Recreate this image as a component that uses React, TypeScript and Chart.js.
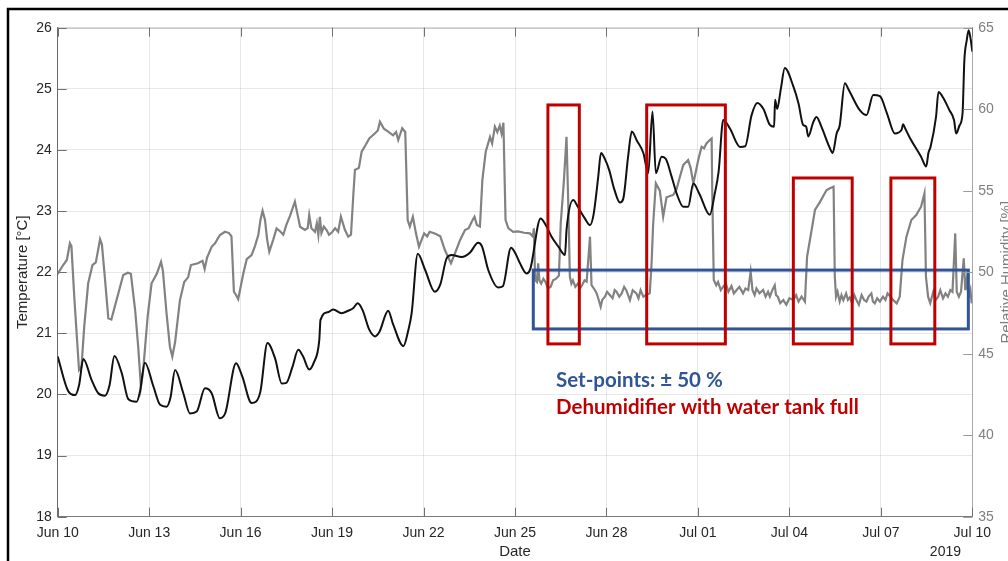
import React, { useEffect, useRef } from "react";
import { Chart, registerables } from "chart.js";

Chart.register(...registerables);

// X axis: days since Jun 10, 2019
const xTickLabels = ["Jun 10", "Jun 13", "Jun 16", "Jun 19", "Jun 22", "Jun 25", "Jun 28", "Jul 01", "Jul 04", "Jul 07", "Jul 10"];
const yearLabel = "2019";

// Temperature [°C] (left axis): [day since Jun 10, value]
const temperatureSeries: [number, number][] = [
  [0.0, 20.62], [0.35, 20.05], [0.57, 19.99], [0.7, 20.15], [0.84, 20.58], [1.11, 20.24], [1.33, 20.02], [1.55, 19.98],
  [1.7, 20.15], [1.86, 20.63], [2.1, 20.35], [2.32, 19.92], [2.59, 19.88], [2.7, 20.05], [2.86, 20.52], [3.14, 20.13],
  [3.36, 19.83], [3.57, 19.8], [3.7, 19.95], [3.85, 20.4], [4.12, 20.02], [4.34, 19.69], [4.56, 19.72], [4.83, 20.1],
  [5.05, 20.02], [5.32, 19.61], [5.5, 19.7], [5.85, 20.51], [6.05, 20.3], [6.36, 19.86], [6.5, 19.88], [6.65, 20.05],
  [6.88, 20.84], [7.13, 20.59], [7.35, 20.18], [7.5, 20.19], [7.7, 20.45], [7.89, 20.73], [8.05, 20.62], [8.25, 20.41],
  [8.4, 20.52], [8.58, 20.89], [8.62, 21.22], [8.88, 21.35], [9.04, 21.39], [9.31, 21.33], [9.53, 21.37], [9.69, 21.41],
  [9.84, 21.49], [10.0, 21.38], [10.22, 21.06], [10.41, 20.95], [10.55, 21.02], [10.84, 21.37], [11.0, 21.15], [11.34, 20.79],
  [11.5, 21.05], [11.61, 21.33], [11.81, 22.3], [12.05, 22.04], [12.37, 21.68], [12.55, 21.8], [12.76, 22.23], [12.92, 22.28],
  [13.25, 22.25], [13.52, 22.32], [13.79, 22.48], [13.92, 22.42], [14.12, 22.04], [14.45, 21.75], [14.6, 21.77], [14.87, 22.4],
  [15.02, 22.3], [15.16, 22.15], [15.38, 21.98], [15.5, 22.05], [15.84, 22.88], [16.0, 22.78], [16.2, 22.58], [16.42, 22.42],
  [16.64, 22.28], [16.69, 22.69], [16.91, 23.18], [17.05, 23.08], [17.29, 22.88], [17.46, 22.77], [17.58, 22.95], [17.73, 23.56],
  [17.82, 23.95], [17.95, 23.85], [18.09, 23.67], [18.26, 23.35], [18.44, 23.14], [18.55, 23.2], [18.71, 23.89], [18.83, 24.3],
  [19.0, 24.15], [19.21, 23.95], [19.37, 23.62], [19.51, 24.63], [19.62, 23.62], [19.81, 23.89], [19.95, 23.85], [20.14, 23.56],
  [20.3, 23.29], [20.52, 23.07], [20.68, 23.07], [20.85, 23.45], [21.05, 23.28], [21.39, 22.94], [21.55, 23.28], [21.68, 23.65],
  [21.83, 24.49], [22.05, 24.35], [22.38, 24.05], [22.55, 24.06], [22.76, 24.57], [22.95, 24.77], [23.15, 24.67], [23.36, 24.41],
  [23.5, 24.38], [23.53, 24.82], [23.6, 24.67], [23.72, 25.0], [23.85, 25.34], [24.13, 25.04], [24.3, 24.76], [24.45, 24.41],
  [24.55, 24.38], [24.62, 24.22], [24.78, 24.45], [24.89, 24.54], [25.05, 24.38], [25.31, 24.05], [25.42, 23.95], [25.55, 24.27],
  [25.65, 24.4], [25.82, 25.09], [25.95, 24.98], [26.31, 24.65], [26.53, 24.57], [26.75, 24.9], [26.97, 24.88], [27.2, 24.6],
  [27.46, 24.27], [27.68, 24.33], [27.73, 24.42], [27.8, 24.35], [27.95, 24.2], [28.32, 23.89], [28.49, 23.73], [28.56, 23.95],
  [28.63, 24.05], [28.81, 24.54], [28.89, 24.95], [29.05, 24.85], [29.25, 24.65], [29.4, 24.49], [29.47, 24.27], [29.58, 24.4],
  [29.68, 24.6], [29.74, 25.47], [29.82, 25.8], [29.88, 25.96], [29.95, 25.8], [30.0, 25.61],
];

// Relative Humidity [%] (right axis): [day since Jun 10, value]
const humiditySeries: [number, number][] = [
  [0.0, 49.9], [0.18, 50.44], [0.3, 50.75], [0.4, 51.77], [0.45, 51.6], [0.55, 48.29], [0.7, 44.0], [0.78, 44.2],
  [0.87, 46.66], [1.0, 49.32], [1.14, 50.44], [1.25, 50.6], [1.39, 52.02], [1.45, 51.7], [1.55, 49.6], [1.66, 47.17],
  [1.76, 47.1], [1.93, 48.29], [2.15, 49.83], [2.3, 49.97], [2.4, 49.9], [2.54, 47.68], [2.64, 45.43], [2.73, 42.97],
  [2.8, 43.9], [2.95, 47.27], [3.08, 49.32], [3.25, 49.9], [3.39, 50.64], [3.45, 50.1], [3.57, 47.48], [3.68, 45.43],
  [3.76, 44.82], [3.85, 45.7], [4.01, 48.29], [4.15, 49.4], [4.28, 49.7], [4.37, 50.44], [4.6, 50.55], [4.75, 50.7],
  [4.82, 50.2], [4.9, 50.9], [5.05, 51.56], [5.16, 51.77], [5.32, 52.28], [5.49, 52.48], [5.62, 52.4], [5.7, 52.2],
  [5.78, 48.8], [5.85, 48.6], [5.92, 48.34], [6.09, 49.93], [6.2, 50.8], [6.36, 51.05], [6.47, 51.6], [6.58, 52.28],
  [6.65, 53.2], [6.72, 53.77], [6.8, 53.2], [6.87, 52.0], [6.94, 51.26], [7.07, 52.0], [7.18, 52.69], [7.3, 52.5],
  [7.4, 52.3], [7.5, 52.9], [7.62, 53.45], [7.78, 54.33], [7.85, 53.7], [7.95, 52.79], [8.11, 52.59], [8.2, 52.7],
  [8.25, 53.51], [8.32, 52.7], [8.44, 52.48], [8.5, 53.0], [8.55, 52.3], [8.6, 53.4], [8.65, 52.4], [8.73, 52.8],
  [8.82, 52.59], [8.9, 52.3], [9.0, 52.45], [9.1, 52.7], [9.2, 52.48], [9.29, 53.41], [9.42, 52.6], [9.53, 52.18],
  [9.62, 52.3], [9.7, 54.84], [9.75, 56.27], [9.88, 56.4], [9.97, 57.39], [10.1, 57.8], [10.22, 58.21], [10.41, 58.52],
  [10.5, 58.7], [10.57, 59.23], [10.7, 58.8], [10.84, 58.62], [11.0, 58.4], [11.1, 58.6], [11.17, 58.11], [11.3, 58.83],
  [11.4, 58.6], [11.48, 53.2], [11.55, 52.8], [11.65, 53.4], [11.75, 52.4], [11.85, 51.56], [12.02, 52.38], [12.12, 52.2],
  [12.2, 52.48], [12.37, 52.38], [12.55, 52.2], [12.7, 51.36], [12.9, 50.55], [13.02, 51.1], [13.2, 51.98], [13.36, 52.59],
  [13.48, 52.7], [13.58, 53.1], [13.67, 53.4], [13.75, 52.9], [13.85, 52.8], [13.93, 55.66], [14.04, 57.39], [14.18, 58.3],
  [14.25, 57.9], [14.34, 58.93], [14.42, 58.6], [14.5, 59.0], [14.56, 58.5], [14.62, 59.17], [14.69, 53.2], [14.78, 52.7],
  [14.94, 52.48], [15.1, 52.5], [15.3, 52.42], [15.49, 52.38], [15.58, 52.2], [15.62, 52.69], [15.66, 49.52], [15.72, 49.4],
  [15.76, 50.55], [15.8, 49.5], [15.86, 49.3], [15.93, 49.6], [16.0, 49.4], [16.08, 49.0], [16.17, 49.11], [16.25, 49.5],
  [16.35, 49.6], [16.44, 49.8], [16.5, 53.0], [16.6, 55.5], [16.69, 58.31], [16.75, 54.0], [16.8, 49.72], [16.85, 49.3],
  [16.9, 49.5], [16.98, 49.1], [17.07, 49.32], [17.13, 49.0], [17.2, 49.2], [17.28, 49.5], [17.35, 49.42], [17.46, 52.18],
  [17.51, 49.2], [17.62, 48.91], [17.68, 48.7], [17.73, 48.4], [17.81, 47.88], [17.86, 48.3], [17.95, 48.5], [18.02, 48.8],
  [18.11, 48.6], [18.2, 48.4], [18.27, 48.9], [18.33, 48.8], [18.42, 48.5], [18.5, 48.7], [18.58, 49.1], [18.65, 48.9],
  [18.71, 48.6], [18.77, 48.29], [18.86, 48.9], [18.98, 48.7], [19.05, 48.4], [19.12, 48.9], [19.21, 48.5], [19.3, 48.6],
  [19.42, 48.7], [19.48, 50.55], [19.53, 52.9], [19.62, 55.45], [19.75, 55.0], [19.86, 53.41], [19.97, 54.6], [20.19, 54.74],
  [20.3, 55.1], [20.41, 55.86], [20.52, 56.58], [20.68, 56.88], [20.76, 56.4], [20.85, 55.45], [21.01, 56.88], [21.12, 57.7],
  [21.2, 57.6], [21.28, 57.9], [21.39, 58.11], [21.45, 58.2], [21.47, 55.0], [21.52, 49.52], [21.6, 49.2], [21.66, 49.4],
  [21.75, 48.9], [21.83, 49.11], [21.92, 49.3], [22.0, 48.8], [22.1, 49.15], [22.18, 48.7], [22.27, 48.91], [22.36, 49.1],
  [22.48, 48.7], [22.56, 49.0], [22.65, 48.91], [22.73, 50.03], [22.79, 48.9], [22.86, 48.6], [22.92, 49.0], [23.02, 48.7],
  [23.14, 48.91], [23.22, 48.5], [23.3, 48.8], [23.36, 48.5], [23.44, 48.9], [23.52, 49.2], [23.56, 48.6], [23.62, 48.5],
  [23.7, 48.1], [23.8, 48.29], [23.9, 48.0], [24.0, 48.4], [24.13, 48.3], [24.22, 48.6], [24.3, 48.2], [24.4, 48.5],
  [24.51, 48.19], [24.58, 50.95], [24.73, 52.59], [24.84, 53.82], [25.0, 54.3], [25.22, 55.04], [25.33, 55.15], [25.45, 55.25],
  [25.49, 49.72], [25.53, 48.5], [25.58, 48.8], [25.65, 48.2], [25.71, 48.6], [25.77, 48.29], [25.86, 48.7], [25.92, 48.3],
  [25.98, 48.45], [26.06, 48.1], [26.13, 48.6], [26.2, 48.29], [26.28, 48.0], [26.37, 48.6], [26.45, 48.3], [26.53, 48.2],
  [26.6, 48.5], [26.69, 48.7], [26.74, 48.2], [26.8, 48.09], [26.88, 48.4], [26.97, 48.2], [27.07, 48.5], [27.15, 48.3],
  [27.22, 48.7], [27.3, 48.54], [27.4, 48.3], [27.52, 48.09], [27.62, 48.5], [27.71, 50.75], [27.84, 52.18], [28.0, 53.2],
  [28.16, 53.5], [28.32, 54.02], [28.43, 54.84], [28.48, 49.72], [28.55, 48.5], [28.62, 48.1], [28.72, 48.8], [28.8, 48.3],
  [28.88, 48.5], [28.95, 48.9], [29.04, 48.4], [29.12, 48.7], [29.2, 48.5], [29.28, 48.9], [29.35, 48.8], [29.44, 52.38],
  [29.49, 48.8], [29.56, 48.5], [29.63, 48.8], [29.72, 50.85], [29.77, 48.9], [29.82, 49.6], [29.86, 48.8], [29.9, 48.6],
  [29.94, 48.9], [29.98, 48.09],
];

// Annotation boxes in data units: [dayStart, dayEnd, rhLow, rhHigh]
const dehumidifierBoxes = [
  [16.08, 17.11, 45.6, 60.26],
  [19.32, 21.9, 45.6, 60.26],
  [24.13, 26.06, 45.6, 55.78],
  [27.33, 28.77, 45.6, 55.78],
];
const setPointBox = [15.6, 29.87, 46.52, 50.13];
const setPointText = "Set-points: ± 50 %";
const dehumidifierText = "Dehumidifier with water tank full";

const FONT = "'Liberation Sans', Arial, Helvetica, sans-serif";

export default function App() {
  const canvasRef = useRef<HTMLCanvasElement | null>(null);

  useEffect(() => {
    document.body.style.margin = "0";
    const canvas = canvasRef.current;
    if (!canvas) return;

    const decor = {
      id: "decor",
      beforeDraw(chart: any) {
        const c = chart.ctx;
        c.save();
        c.fillStyle = "#ffffff";
        c.fillRect(0, 0, chart.width, chart.height);
        c.restore();
      },
      afterDatasetsDraw(chart: any) {
        const c = chart.ctx;
        const xs = chart.scales.x;
        const ys = chart.scales.y2;
        c.save();
        c.lineWidth = 3;
        c.strokeStyle = "#2F5597";
        {
          const [a, b, lo, hi] = setPointBox;
          const x0 = xs.getPixelForValue(a), x1 = xs.getPixelForValue(b);
          const y0 = ys.getPixelForValue(hi), y1 = ys.getPixelForValue(lo);
          c.strokeRect(x0, y0, x1 - x0, y1 - y0);
        }
        c.strokeStyle = "#C00000";
        for (const [a, b, lo, hi] of dehumidifierBoxes) {
          const x0 = xs.getPixelForValue(a), x1 = xs.getPixelForValue(b);
          const y0 = ys.getPixelForValue(hi), y1 = ys.getPixelForValue(lo);
          c.strokeRect(x0, y0, x1 - x0, y1 - y0);
        }
        c.restore();
      },
      afterDraw(chart: any) {
        const c = chart.ctx;
        const area = chart.chartArea;
        const xs = chart.scales.x;
        const yl = chart.scales.y;
        const yr = chart.scales.y2;
        c.save();
        // top box line
        c.strokeStyle = "#b5b5b5";
        c.lineWidth = 1;
        c.beginPath();
        c.moveTo(area.left, area.top + 0.5);
        c.lineTo(area.right, area.top + 0.5);
        c.stroke();
        // inward ticks
        c.strokeStyle = "#707070";
        c.beginPath();
        for (const t of xs.ticks) {
          const px = Math.round(xs.getPixelForValue(t.value)) + 0.5;
          c.moveTo(px, area.bottom);
          c.lineTo(px, area.bottom - 9);
          c.moveTo(px, area.top);
          c.lineTo(px, area.top + 9);
        }
        for (const t of yl.ticks) {
          const py = Math.round(yl.getPixelForValue(t.value)) + 0.5;
          c.moveTo(area.left, py);
          c.lineTo(area.left + 9, py);
        }
        c.stroke();
        c.strokeStyle = "#9a9a9a";
        c.beginPath();
        for (const t of yr.ticks) {
          const py = Math.round(yr.getPixelForValue(t.value)) + 0.5;
          c.moveTo(area.right, py);
          c.lineTo(area.right - 9, py);
        }
        c.stroke();

        // axis titles
        c.fillStyle = "#262626";
        c.font = `15px ${FONT}`;
        c.textAlign = "center";
        c.textBaseline = "middle";
        c.fillText("Date", (area.left + area.right) / 2, 552);
        c.font = `14px ${FONT}`;
        c.textAlign = "right";
        c.fillText(yearLabel, 961, 552);

        c.save();
        c.translate(23, (area.top + area.bottom) / 2);
        c.rotate(-Math.PI / 2);
        c.font = `15px ${FONT}`;
        c.textAlign = "center";
        c.textBaseline = "middle";
        c.fillText("Temperature [°C]", 0, 0);
        c.restore();

        c.save();
        c.translate(1007, (area.top + area.bottom) / 2);
        c.rotate(-Math.PI / 2);
        c.font = `15px ${FONT}`;
        c.fillStyle = "#808080";
        c.textAlign = "center";
        c.textBaseline = "middle";
        c.fillText("Relative Humidity [%]", 0, 0);
        c.restore();

        // annotation text
        c.font = `bold 20.5px Lato, 'Open Sans', sans-serif`;
        c.textAlign = "left";
        c.textBaseline = "alphabetic";
        c.fillStyle = "#2F5597";
        c.fillText(setPointText, 556, 387);
        c.fillStyle = "#C00000";
        c.fillText(dehumidifierText, 556, 414);

        // outer frame
        c.strokeStyle = "#000000";
        c.lineWidth = 2.5;
        c.beginPath();
        c.moveTo(8, 561);
        c.lineTo(8, 9);
        c.lineTo(1008, 9);
        c.stroke();
        c.restore();
      },
    };

    const chart = new Chart(canvas, {
      type: "line",
      data: {
        datasets: [
          {
            label: "Temperature",
            data: temperatureSeries.map(([d, v]) => ({ x: d, y: v })),
            borderColor: "#111111",
            borderWidth: 2,
            pointRadius: 0,
            cubicInterpolationMode: "monotone",
            yAxisID: "y",
          },
          {
            label: "Relative Humidity",
            data: humiditySeries.map(([d, v]) => ({ x: d, y: v })),
            borderColor: "#828282",
            borderWidth: 2.2,
            pointRadius: 0,
            tension: 0,
            yAxisID: "y2",
          },
        ],
      },
      options: {
        responsive: false,
        animation: false,
        layout: { padding: { top: 27.7, left: 0, right: 0, bottom: 0 } },
        plugins: { legend: { display: false }, tooltip: { enabled: false }, title: { display: false } },
        scales: {
          x: {
            type: "linear",
            min: 0,
            max: 30,
            ticks: {
              stepSize: 3,
              autoSkip: false,
              maxRotation: 0,
              padding: 8,
              color: "#262626",
              font: { size: 14, family: FONT },
              callback: (v: any) => xTickLabels[Math.round(Number(v) / 3)] ?? "",
            },
            grid: { color: "rgba(0,0,0,0.09)", drawTicks: false },
            border: { color: "#7a7a7a", width: 1 },
            afterFit: (s: any) => {
              s.height = 44.3;
            },
          },
          y: {
            type: "linear",
            position: "left",
            min: 18,
            max: 26,
            ticks: { stepSize: 1, padding: 6, color: "#262626", font: { size: 14, family: FONT } },
            grid: { color: "rgba(0,0,0,0.09)", drawTicks: false },
            border: { color: "#6a6a6a", width: 1 },
            afterFit: (s: any) => {
              s.width = 57.7;
            },
          },
          y2: {
            type: "linear",
            position: "right",
            min: 35,
            max: 65,
            ticks: { stepSize: 5, padding: 6, color: "#808080", font: { size: 14, family: FONT } },
            grid: { drawOnChartArea: false, drawTicks: false },
            border: { color: "#a8a8a8", width: 1 },
            afterFit: (s: any) => {
              s.width = 35.7;
            },
          },
        },
      },
      plugins: [decor],
    });
    return () => chart.destroy();
  }, []);

  return (
    <canvas
      ref={canvasRef}
      width={1008}
      height={561}
      style={{ display: "block", width: "1008px", height: "561px" }}
    />
  );
}
